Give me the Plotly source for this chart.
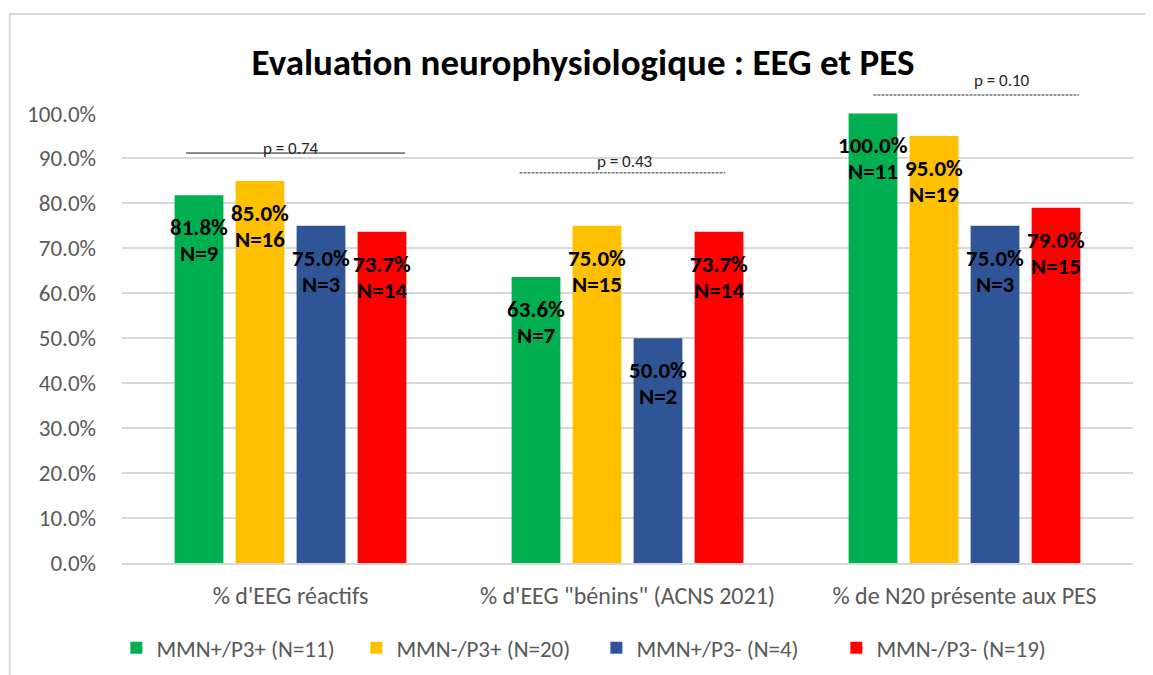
import plotly.graph_objects as go

categories = ["% d'EEG réactifs", '% d\'EEG "bénins" (ACNS 2021)', "% de N20 présente aux PES"]
groups = ["MMN+/P3+ (N=11)", "MMN-/P3+ (N=20)", "MMN+/P3- (N=4)", "MMN-/P3- (N=19)"]

pct_mmnp_p3p = [0.818, 0.636, 1.000]
pct_mmnm_p3p = [0.850, 0.750, 0.950]
pct_mmnp_p3m = [0.750, 0.500, 0.750]
pct_mmnm_p3m = [0.737, 0.737, 0.790]

n_mmnp_p3p = [9, 7, 11]
n_mmnm_p3p = [16, 15, 19]
n_mmnp_p3m = [3, 2, 3]
n_mmnm_p3m = [14, 14, 15]

p_values = ["0.74", "0.43", "0.10"]

colors = ["#00B050", "#FFC000", "#2F5597", "#FF0000"]
values = [pct_mmnp_p3p, pct_mmnm_p3p, pct_mmnp_p3m, pct_mmnm_p3m]
counts = [n_mmnp_p3p, n_mmnm_p3p, n_mmnp_p3m, n_mmnm_p3m]

FONT = "Carlito, Lato, sans-serif"
GREY = "#595959"
BARGAP = 0.276

fig = go.Figure()
for name, col, vals in zip(groups, colors, values):
    fig.add_bar(x=categories, y=vals, name=name, marker=dict(color=col, line=dict(width=0)))

# value labels just under the top of each bar (two lines, placed separately)
slot = (1 - BARGAP) / len(groups)
annotations = []
for j, (vals, ns) in enumerate(zip(values, counts)):
    for i, (v, n) in enumerate(zip(vals, ns)):
        for txt, shift in (("<b>%.1f%%</b>" % (v * 100), -32), ("<b>N=%d</b>" % n, -58)):
            annotations.append(dict(
                x=i + (j - 1.5) * slot, y=v, xref="x", yref="y",
                text=txt, showarrow=False, yanchor="middle", yshift=shift,
                font=dict(family=FONT, size=23, color="black"),
            ))

# p-value brackets: (x0, x1, line y, dash, text x, text y)
brackets = [(-0.31, 0.34, 0.911, "solid", 0.0, 0.922),
            (-0.32, 0.29, 0.867, "3px,1px", -0.01, 0.893),
            (-0.27, 0.34, 1.040, "3px,1px", 0.11, 1.073)]
shapes = []
for i, (x0, x1, y, dash, tx, ty) in enumerate(brackets):
    shapes.append(dict(type="line", xref="x", yref="paper", x0=i + x0, x1=i + x1, y0=y, y1=y,
                       line=dict(color="#1a1a1a" if dash == "solid" else "#333333", width=1, dash=dash)))
    annotations.append(dict(x=i + tx, y=ty, xref="x", yref="paper", text="p = " + p_values[i],
                            showarrow=False, yanchor="middle",
                            font=dict(family=FONT, size=17, color="#262626")))

# outer chart border (only the top and left edges are inside the picture)
shapes.append(dict(type="rect", xref="paper", yref="paper", x0=-0.111, x1=1.2, y0=-0.4, y1=1.22,
                   line=dict(color="#D9D9D9", width=2), layer="below"))

fig.update_layout(
    width=1153, height=675,
    margin=dict(l=114, r=28, t=105, b=120),
    paper_bgcolor="white", plot_bgcolor="white",
    barmode="group", bargap=BARGAP, bargroupgap=0.2,
    title=dict(text="<b>Evaluation neurophysiologique : EEG et PES</b>",
               xref="container", x=0.4987, xanchor="center",
               yref="container", y=0.92, yanchor="middle",
               font=dict(family=FONT, size=37, color="black")),
    font=dict(family=FONT, color=GREY),
    legend=dict(orientation="h", xref="container", x=0.5103, xanchor="center",
                yref="container", y=0.052, yanchor="middle",
                font=dict(family=FONT, size=23, color=GREY),
                entrywidth=195, itemwidth=30, traceorder="normal"),
    annotations=annotations,
    shapes=shapes,
)
fig.update_yaxes(range=[0, 1.001], tickvals=[k / 10 for k in range(11)], tickformat=".1%",
                 showgrid=True, gridcolor="#D9D9D9", gridwidth=2, zeroline=False,
                 tickfont=dict(family=FONT, size=23, color=GREY), ticklabelstandoff=25,
                 showline=False)
fig.update_xaxes(showline=True, linecolor="#D9D9D9", linewidth=2,
                 tickfont=dict(family=FONT, size=24, color=GREY), ticklabelstandoff=10)

fig.write_html("out.html")
